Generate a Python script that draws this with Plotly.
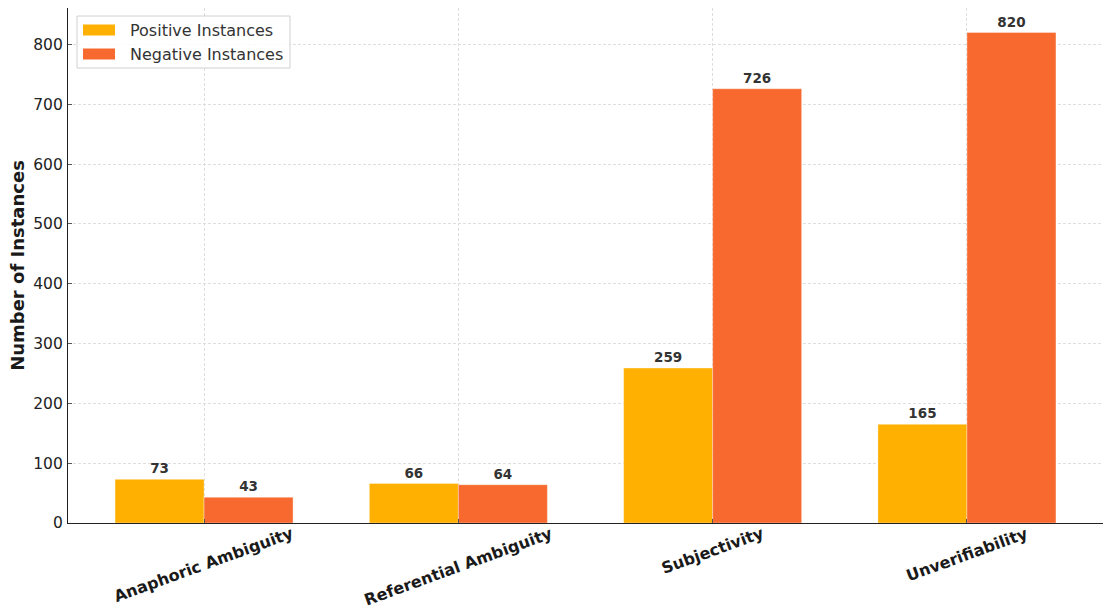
import plotly.graph_objects as go

categories = ["Anaphoric Ambiguity", "Referential Ambiguity", "Subjectivity", "Unverifiability"]
positive = [73, 66, 259, 165]
negative = [43, 64, 726, 820]
series_names = ["Positive Instances", "Negative Instances"]
series_colors = ["#FFB000", "#F7692E"]

FONT = "DejaVu Sans"
x_idx = list(range(len(categories)))

# plot area in pixels, used to place the hand-drawn legend
L, R, T, B = 68, 1103, 8, 523
def px(xv):
    return (xv - L) / (R - L)
def py(yv):
    return (B - yv) / (B - T)

fig = go.Figure()
for name, vals, col in zip(series_names, [positive, negative], series_colors):
    fig.add_trace(go.Bar(
        x=x_idx, y=vals, name=name,
        marker=dict(color=col, line=dict(color="rgba(255,255,255,0.35)", width=1)),
        texttemplate="%{y}", textposition="outside",
        textfont=dict(family=FONT, size=13.5, color="#333333", weight="bold"),
        cliponaxis=False, showlegend=False,
    ))

# rotated category labels, centred under each group
for i, name in enumerate(categories):
    fig.add_annotation(
        x=i, y=py(521), xref="x", yref="paper", text=name, showarrow=False,
        textangle=-20, xanchor="center", yanchor="top",
        font=dict(family=FONT, size=16, color="#1a1a1a", weight="bold"),
    )

# legend box with wide swatches
shapes = [dict(type="rect", xref="paper", yref="paper",
               x0=px(77), x1=px(290), y0=py(68), y1=py(16),
               line=dict(color="#d0d0d0", width=1), fillcolor="rgba(255,255,255,0.85)",
               layer="above")]
for k, (name, col) in enumerate(zip(series_names, series_colors)):
    cy = 30 + 24 * k
    shapes.append(dict(type="rect", xref="paper", yref="paper",
                       x0=px(83), x1=px(115), y0=py(cy + 5.5), y1=py(cy - 5.5),
                       line=dict(width=0), fillcolor=col, layer="above"))
    fig.add_annotation(x=px(128), y=py(cy), xref="paper", yref="paper",
                       text=name, showarrow=False, xanchor="left", yanchor="middle",
                       font=dict(family=FONT, size=16, color="#333333"))

fig.update_layout(
    width=1103, height=610,
    margin=dict(l=L, r=1103 - R, t=T, b=610 - B),
    paper_bgcolor="white", plot_bgcolor="white",
    barmode="group", bargap=0.3, bargroupgap=0,
    font=dict(family=FONT, size=15, color="#222222"),
    shapes=shapes,
    showlegend=False,
)
fig.update_xaxes(
    range=[-0.535, 3.535], tickvals=x_idx, showticklabels=False,
    showgrid=True, gridcolor="#dedede", griddash="3px,2px", gridwidth=1,
    showline=True, linecolor="#222222", linewidth=1.2,
    ticks="inside", ticklen=4, tickcolor="#555555", zeroline=False,
)
fig.update_yaxes(
    range=[0, 861], dtick=100, tick0=0,
    showgrid=True, gridcolor="#dedede", griddash="3px,2px", gridwidth=1,
    showline=True, linecolor="#222222", linewidth=1.2,
    ticks="inside", ticklen=4, tickcolor="#555555", zeroline=False,
    ticklabelstandoff=1,
    tickfont=dict(family=FONT, size=15.5, color="#222222"),
    title=dict(text="Number of Instances", standoff=3,
               font=dict(family=FONT, size=18, color="#1a1a1a", weight="bold")),
)

fig.write_html("out.html")
